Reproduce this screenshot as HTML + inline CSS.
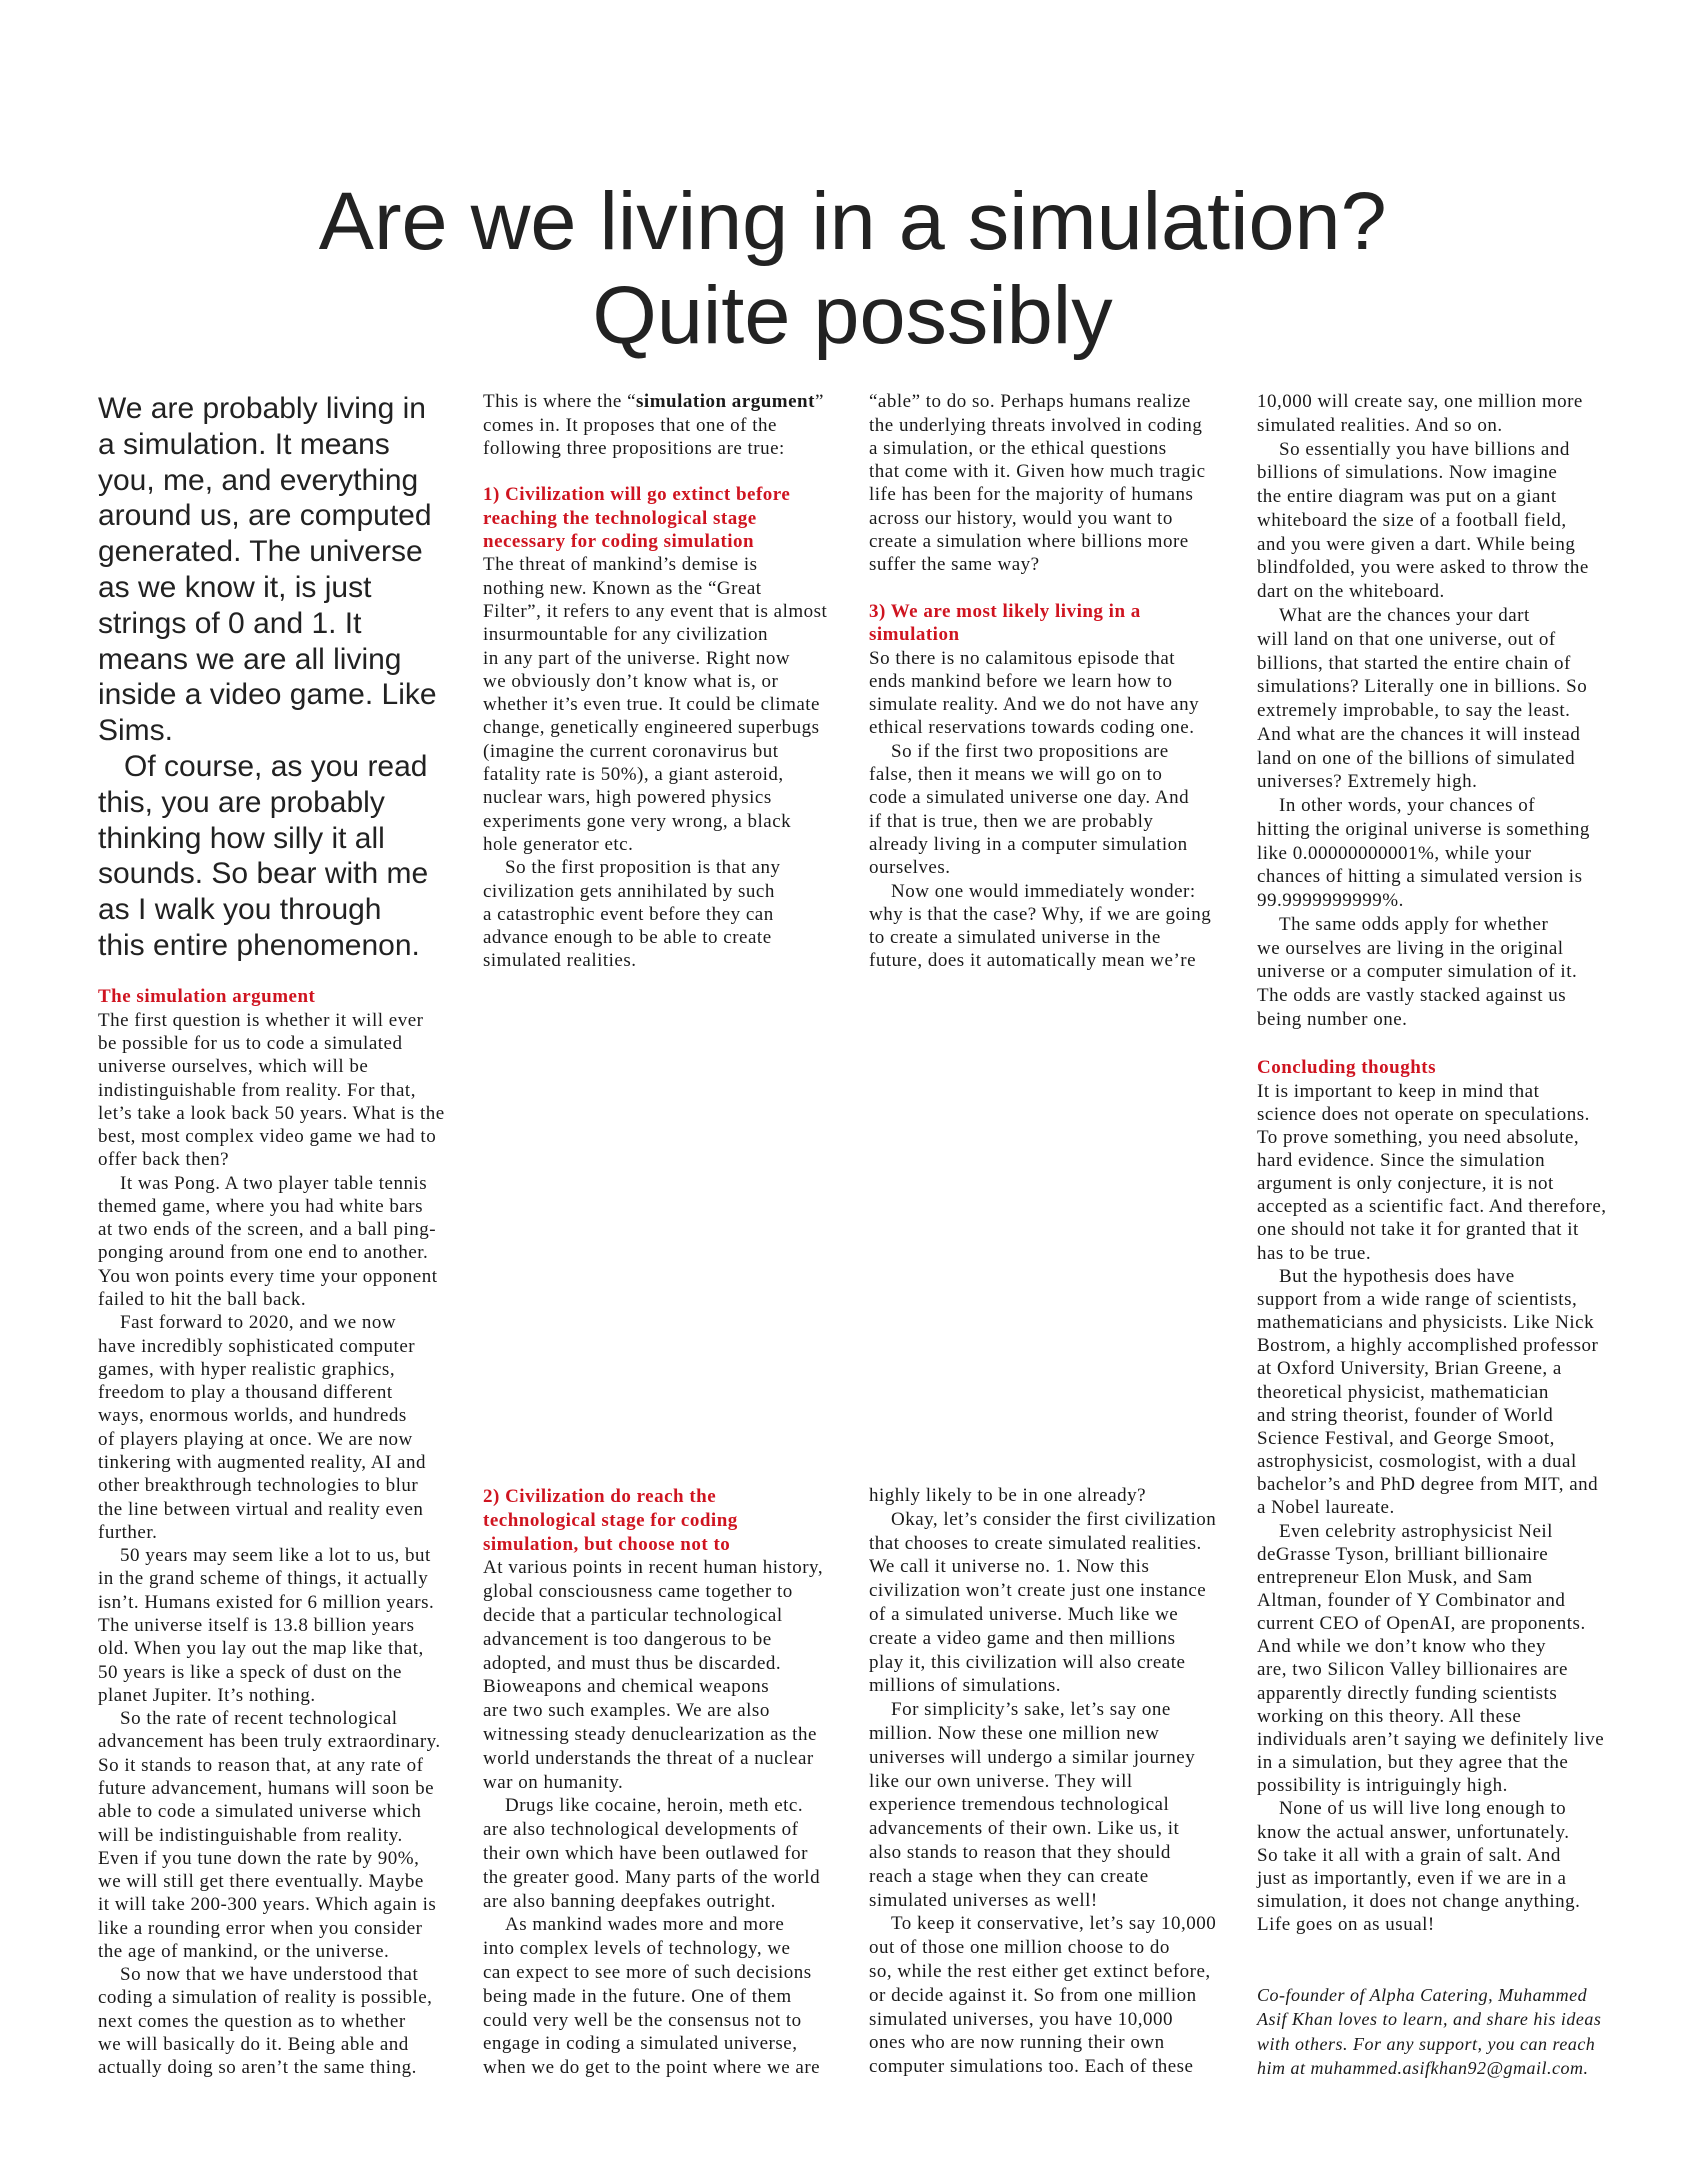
<!DOCTYPE html>
<html><head><meta charset="utf-8">
<style>
html,body{margin:0;padding:0;background:#fff;}
body{width:1705px;height:2170px;position:relative;overflow:hidden;color:#1a1a1a;}
.title{position:absolute;left:0;width:1705px;text-align:center;font-family:"Liberation Sans",sans-serif;font-size:82px;line-height:94px;top:175px;color:#222;}
.title span{display:inline-block;transform:scaleX(1.01);transform-origin:center;}
.intro{position:absolute;left:98px;top:391px;font-family:"Liberation Sans",sans-serif;font-size:30px;line-height:35.8px;white-space:pre;color:#222;}
.b{position:absolute;font-family:"Liberation Serif",serif;font-size:19px;letter-spacing:0.5px;white-space:pre;}
.i{display:inline-block;width:22px;}
.ii{display:inline-block;width:26px;}
.h{color:#cf1420;font-weight:bold;font-size:19px;letter-spacing:0.5px;}
.au{font-style:italic;font-size:18px;letter-spacing:0.5px;}
</style></head><body>
<div class="title"><span>Are we living in a simulation?</span><br><span>Quite possibly</span></div>

<div class="intro">We are probably living in
a simulation. It means
you, me, and everything
around us, are computed
generated. The universe
as we know it, is just
strings of 0 and 1. It
means we are all living
inside a video game. Like
Sims.
<span class="ii"></span>Of course, as you read
this, you are probably
thinking how silly it all
sounds. So bear with me
as I walk you through
this entire phenomenon.</div>

<div class="b" style="left:98px;top:985.4px;line-height:23.28px"><span class="h">The simulation argument</span>
The first question is whether it will ever
be possible for us to code a simulated
universe ourselves, which will be
indistinguishable from reality. For that,
let’s take a look back 50 years. What is the
best, most complex video game we had to
offer back then?
<span class="i"></span>It was Pong. A two player table tennis
themed game, where you had white bars
at two ends of the screen, and a ball ping-
ponging around from one end to another.
You won points every time your opponent
failed to hit the ball back.
<span class="i"></span>Fast forward to 2020, and we now
have incredibly sophisticated computer
games, with hyper realistic graphics,
freedom to play a thousand different
ways, enormous worlds, and hundreds
of players playing at once. We are now
tinkering with augmented reality, AI and
other breakthrough technologies to blur
the line between virtual and reality even
further.
<span class="i"></span>50 years may seem like a lot to us, but
in the grand scheme of things, it actually
isn’t. Humans existed for 6 million years.
The universe itself is 13.8 billion years
old. When you lay out the map like that,
50 years is like a speck of dust on the
planet Jupiter. It’s nothing.
<span class="i"></span>So the rate of recent technological
advancement has been truly extraordinary.
So it stands to reason that, at any rate of
future advancement, humans will soon be
able to code a simulated universe which
will be indistinguishable from reality.
Even if you tune down the rate by 90%,
we will still get there eventually. Maybe
it will take 200-300 years. Which again is
like a rounding error when you consider
the age of mankind, or the universe.
<span class="i"></span>So now that we have understood that
coding a simulation of reality is possible,
next comes the question as to whether
we will basically do it. Being able and
actually doing so aren’t the same thing.</div>

<div class="b" style="left:483px;top:390.3px;line-height:23.3px">This is where the “<b>simulation argument</b>”
comes in. It proposes that one of the
following three propositions are true:

<span class="h">1) Civilization will go extinct before
reaching the technological stage
necessary for coding simulation</span>
The threat of mankind’s demise is
nothing new. Known as the “Great
Filter”, it refers to any event that is almost
insurmountable for any civilization
in any part of the universe. Right now
we obviously don’t know what is, or
whether it’s even true. It could be climate
change, genetically engineered superbugs
(imagine the current coronavirus but
fatality rate is 50%), a giant asteroid,
nuclear wars, high powered physics
experiments gone very wrong, a black
hole generator etc.
<span class="i"></span>So the first proposition is that any
civilization gets annihilated by such
a catastrophic event before they can
advance enough to be able to create
simulated realities.</div>

<div class="b" style="left:483px;top:1485.1px;line-height:23.8px"><span class="h">2) Civilization do reach the
technological stage for coding
simulation, but choose not to</span>
At various points in recent human history,
global consciousness came together to
decide that a particular technological
advancement is too dangerous to be
adopted, and must thus be discarded.
Bioweapons and chemical weapons
are two such examples. We are also
witnessing steady denuclearization as the
world understands the threat of a nuclear
war on humanity.
<span class="i"></span>Drugs like cocaine, heroin, meth etc.
are also technological developments of
their own which have been outlawed for
the greater good. Many parts of the world
are also banning deepfakes outright.
<span class="i"></span>As mankind wades more and more
into complex levels of technology, we
can expect to see more of such decisions
being made in the future. One of them
could very well be the consensus not to
engage in coding a simulated universe,
when we do get to the point where we are</div>

<div class="b" style="left:869px;top:390.3px;line-height:23.3px">“able” to do so. Perhaps humans realize
the underlying threats involved in coding
a simulation, or the ethical questions
that come with it. Given how much tragic
life has been for the majority of humans
across our history, would you want to
create a simulation where billions more
suffer the same way?

<span class="h">3) We are most likely living in a
simulation</span>
So there is no calamitous episode that
ends mankind before we learn how to
simulate reality. And we do not have any
ethical reservations towards coding one.
<span class="i"></span>So if the first two propositions are
false, then it means we will go on to
code a simulated universe one day. And
if that is true, then we are probably
already living in a computer simulation
ourselves.
<span class="i"></span>Now one would immediately wonder:
why is that the case? Why, if we are going
to create a simulated universe in the
future, does it automatically mean we’re</div>

<div class="b" style="left:869px;top:1484.1px;line-height:23.8px">highly likely to be in one already?
<span class="i"></span>Okay, let’s consider the first civilization
that chooses to create simulated realities.
We call it universe no. 1. Now this
civilization won’t create just one instance
of a simulated universe. Much like we
create a video game and then millions
play it, this civilization will also create
millions of simulations.
<span class="i"></span>For simplicity’s sake, let’s say one
million. Now these one million new
universes will undergo a similar journey
like our own universe. They will
experience tremendous technological
advancements of their own. Like us, it
also stands to reason that they should
reach a stage when they can create
simulated universes as well!
<span class="i"></span>To keep it conservative, let’s say 10,000
out of those one million choose to do
so, while the rest either get extinct before,
or decide against it. So from one million
simulated universes, you have 10,000
ones who are now running their own
computer simulations too. Each of these</div>

<div class="b" style="left:1257px;top:390.1px;line-height:23.77px">10,000 will create say, one million more
simulated realities. And so on.
<span class="i"></span>So essentially you have billions and
billions of simulations. Now imagine
the entire diagram was put on a giant
whiteboard the size of a football field,
and you were given a dart. While being
blindfolded, you were asked to throw the
dart on the whiteboard.
<span class="i"></span>What are the chances your dart
will land on that one universe, out of
billions, that started the entire chain of
simulations? Literally one in billions. So
extremely improbable, to say the least.
And what are the chances it will instead
land on one of the billions of simulated
universes? Extremely high.
<span class="i"></span>In other words, your chances of
hitting the original universe is something
like 0.00000000001%, while your
chances of hitting a simulated version is
99.9999999999%.
<span class="i"></span>The same odds apply for whether
we ourselves are living in the original
universe or a computer simulation of it.
The odds are vastly stacked against us
being number one.</div>

<div class="b" style="left:1257px;top:1056.4px;line-height:23.16px"><span class="h">Concluding thoughts</span>
It is important to keep in mind that
science does not operate on speculations.
To prove something, you need absolute,
hard evidence. Since the simulation
argument is only conjecture, it is not
accepted as a scientific fact. And therefore,
one should not take it for granted that it
has to be true.
<span class="i"></span>But the hypothesis does have
support from a wide range of scientists,
mathematicians and physicists. Like Nick
Bostrom, a highly accomplished professor
at Oxford University, Brian Greene, a
theoretical physicist, mathematician
and string theorist, founder of World
Science Festival, and George Smoot,
astrophysicist, cosmologist, with a dual
bachelor’s and PhD degree from MIT, and
a Nobel laureate.
<span class="i"></span>Even celebrity astrophysicist Neil
deGrasse Tyson, brilliant billionaire
entrepreneur Elon Musk, and Sam
Altman, founder of Y Combinator and
current CEO of OpenAI, are proponents.
And while we don’t know who they
are, two Silicon Valley billionaires are
apparently directly funding scientists
working on this theory. All these
individuals aren’t saying we definitely live
in a simulation, but they agree that the
possibility is intriguingly high.
<span class="i"></span>None of us will live long enough to
know the actual answer, unfortunately.
So take it all with a grain of salt. And
just as importantly, even if we are in a
simulation, it does not change anything.
Life goes on as usual!</div>

<div class="b au" style="left:1257px;top:1983px;line-height:24.3px">Co-founder of Alpha Catering, Muhammed
Asif Khan loves to learn, and share his ideas
with others. For any support, you can reach
him at muhammed.asifkhan92@gmail.com.</div>
</body></html>
